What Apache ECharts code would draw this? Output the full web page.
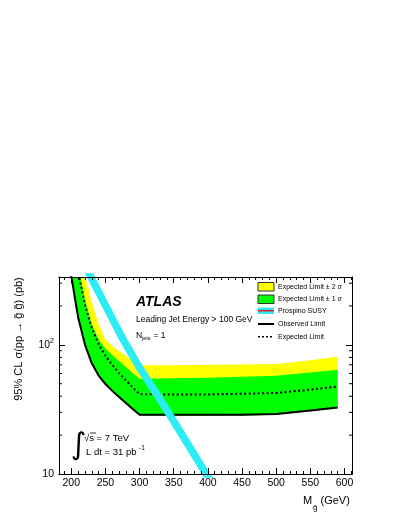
<!DOCTYPE html>
<html>
<head>
<meta charset="utf-8">
<script src="https://cdn.jsdelivr.net/npm/echarts@6/dist/echarts.min.js"></script>
<style>
  html, body { margin: 0; padding: 0; background: #fff; }
  #chart { width: 399px; height: 516px; }
</style>
</head>
<body>
<div id="chart"></div>
<script>
// gluino mass points (GeV) for the limit curves
const mass = [200, 210, 220, 230, 240, 250, 260, 270, 280, 290, 300, 350, 400, 450, 500, 550, 590];
// 95% CL limits on cross-section (pb)
const observed = [340, 163, 100.5, 71.9, 57.8, 49.7, 44.0, 39.4, 35.4, 31.9, 28.8, 28.7, 28.7, 28.8, 29.2, 31, 32.7];
const expected = [851, 372, 204, 135, 101, 82.2, 69.7, 60.4, 53, 46.8, 41.5, 41.2, 41.3, 41.8, 42.4, 45, 47.5];
const band1Up = [914, 408, 224.4, 144.9, 109.9, 93.5, 83.4, 74.8, 67.3, 60.5, 54.5, 55, 55.5, 56.5, 57.5, 61, 64];
const band2Up = [1205, 604, 339.6, 214.3, 144.9, 109.9, 97.9, 89.7, 82.4, 75.7, 69.5, 69.5, 70, 70.5, 71.2, 76, 81];
const bandLow = [335, 160.5, 99, 70.8, 56.9, 49, 43.3, 38.8, 34.9, 31.4, 28.4, 28.3, 28.3, 28.4, 28.8, 30.6, 32.3];

// Prospino SUSY cross-section
const prospinoMass = [200, 225, 250, 275, 300, 325, 350, 375, 400, 410];
const prospino = [684, 366, 202, 112, 66.4, 41.6, 25.6, 15.6, 9.5, 7.8];

// ticks
const xMajorTicks = [200, 250, 300, 350, 400, 450, 500, 550, 600];
const xMinorTicks = [190, 200, 210, 220, 230, 240, 250, 260, 270, 280, 290, 300, 310, 320, 330, 340, 350,
  360, 370, 380, 390, 400, 410, 420, 430, 440, 450, 460, 470, 480, 490, 500, 510, 520, 530, 540, 550,
  560, 570, 580, 590, 600, 610];
const yMinorTicks = [20, 30, 40, 50, 60, 70, 80, 90, 200, 300];

const FONT = '"Liberation Sans", Arial, Helvetica, sans-serif';
const xMin = 182, xMax = 611, yMin = 10, yMax = 335;

const chart = echarts.init(document.getElementById('chart'));

function xAxisOf(position, ticks, len, withLabels) {
  return {
    type: 'value',
    min: xMin,
    max: xMax,
    position: position,
    z: 10,
    axisLine: { show: true, onZero: false, lineStyle: { color: '#000', width: 1 } },
    axisTick: { show: true, inside: true, length: len, customValues: ticks, lineStyle: { color: '#000' } },
    axisLabel: withLabels
      ? { show: true, customValues: xMajorTicks, fontSize: 10.5, fontFamily: FONT, color: '#000', margin: 4 }
      : { show: false },
    splitLine: { show: false },
  };
}

function yAxisOf(position, withLabels) {
  return {
    type: 'log',
    logBase: 10,
    min: yMin,
    max: yMax,
    position: position,
    z: 10,
    axisLine: { show: true, onZero: false, lineStyle: { color: '#000', width: 1 } },
    axisTick: { show: true, inside: true, length: 6, lineStyle: { color: '#000' } },
    axisLabel: withLabels
      ? {
          show: true,
          margin: 5,
          fontFamily: FONT,
          color: '#000',
          formatter: function (value) {
            if (Math.abs(value - 10) < 0.01) return '{n|10}';
            if (Math.abs(value - 100) < 0.01) return '{n|10}{s|2}';
            return '';
          },
          rich: {
            n: { fontSize: 10.5, fontFamily: FONT, color: '#000' },
            s: { fontSize: 7, fontFamily: FONT, color: '#000', padding: [0, 0, 7, 0] },
          },
        }
      : { show: false },
    splitLine: { show: false },
  };
}

function bandSeries(upper, lower, color, z) {
  return {
    type: 'custom',
    clip: true,
    silent: true,
    z: z,
    data: [[mass[0], lower[0]]],
    renderItem: function (params, api) {
      const pts = [];
      for (let i = 0; i < mass.length; i++) pts.push(api.coord([mass[i], upper[i]]));
      for (let i = mass.length - 1; i >= 0; i--) pts.push(api.coord([mass[i], lower[i]]));
      return { type: 'polygon', shape: { points: pts }, style: { fill: color } };
    },
  };
}

function pairs(xs, ys) {
  return xs.map((x, i) => [x, ys[i]]);
}

const txt = (x, y, text, size, extra) => ({
  type: 'text',
  x: x,
  y: y,
  z: 100,
  style: Object.assign(
    { text: text, fontSize: size, fontFamily: FONT, fill: '#000', textVerticalAlign: 'middle' },
    extra || {}
  ),
});

const legendX = 258;
const graphics = [
  // legend
  { type: 'rect', z: 100, shape: { x: legendX, y: 282.5, width: 16, height: 8.5 }, style: { fill: '#ffff00', stroke: '#333', lineWidth: 1 } },
  txt(278, 286.7, 'Expected Limit \u00b1 2 \u03c3', 7),
  { type: 'rect', z: 100, shape: { x: legendX, y: 295, width: 16, height: 8.5 }, style: { fill: '#00ff00', stroke: '#333', lineWidth: 1 } },
  txt(278, 299.2, 'Expected Limit \u00b1 1 \u03c3', 7),
  { type: 'rect', z: 100, shape: { x: legendX, y: 307.5, width: 16, height: 6.5 }, style: { fill: '#2cecf5' } },
  { type: 'line', z: 101, shape: { x1: legendX, y1: 310.7, x2: legendX + 16, y2: 310.7 }, style: { stroke: '#e0202a', lineWidth: 1.5 } },
  txt(278, 311, 'Prospino SUSY', 7),
  { type: 'line', z: 100, shape: { x1: legendX, y1: 324, x2: legendX + 16, y2: 324 }, style: { stroke: '#000', lineWidth: 2 } },
  txt(278, 324, 'Observed Limit', 7),
  { type: 'line', z: 100, shape: { x1: legendX, y1: 336.7, x2: legendX + 16, y2: 336.7 }, style: { stroke: '#000', lineWidth: 1.6, lineDash: [2, 2] } },
  txt(278, 336.7, 'Expected Limit', 7),

  // labels in the plot
  txt(136, 301.7, 'ATLAS', 14, { fontWeight: 'bold', fontStyle: 'italic' }),
  txt(136, 320, 'Leading Jet Energy > 100 GeV', 8.5),
  txt(136, 335.5, 'N', 8.5),
  txt(142, 338.5, 'jets', 5.5),
  txt(153.5, 335.5, '= 1', 8.5),

  txt(78.5, 446, '\u222b', 30, { fontFamily: '"DejaVu Sans", sans-serif', textAlign: 'center' }),
  txt(84, 438.5, '\u221as = 7 TeV', 9.5),
  { type: 'line', z: 100, shape: { x1: 90, y1: 433, x2: 96, y2: 433 }, style: { stroke: '#000', lineWidth: 0.8 } },
  txt(86, 452.5, 'L dt = 31 pb', 9.5),
  txt(139, 448.5, '-1', 6.5),

  // axis titles
  {
    type: 'text', z: 100, x: 19, y: 339, rotation: Math.PI / 2,
    style: { text: '95% CL \u03c3(pp \u2192 g\u0303 g\u0303) (pb)', fontSize: 11, fontFamily: FONT, fill: '#000', textAlign: 'center', textVerticalAlign: 'middle' },
  },
  txt(303, 501, 'M', 11),
  txt(313, 507.5, 'g\u0303', 8),
  txt(320.5, 501, '(GeV)', 11),
];

chart.setOption({
  animation: false,
  backgroundColor: '#fff',
  grid: { left: 59, top: 277, width: 293, height: 197, containLabel: false },
  xAxis: [
    xAxisOf('bottom', xMajorTicks, 6, true),
    xAxisOf('bottom', xMinorTicks, 3, false),
    xAxisOf('top', xMajorTicks, 6, false),
    xAxisOf('top', xMinorTicks, 3, false),
  ],
  yAxis: [yAxisOf('left', true), yAxisOf('right', false)],
  series: [
    bandSeries(band2Up, bandLow, '#ffff00', 2),
    bandSeries(band1Up, bandLow, '#00ff00', 3),
    {
      name: 'Expected Limit',
      type: 'line',
      data: pairs(mass, expected),
      symbol: 'none',
      clip: true,
      z: 5,
      lineStyle: { color: '#000', width: 2, type: [2, 2.5] },
    },
    {
      name: 'Observed Limit',
      type: 'line',
      data: pairs(mass, observed),
      symbol: 'none',
      clip: true,
      z: 5,
      lineStyle: { color: '#000', width: 2 },
    },
    {
      name: 'Prospino SUSY',
      type: 'line',
      data: pairs(prospinoMass, prospino),
      symbol: 'none',
      clip: true,
      z: 6,
      lineStyle: { color: '#2cecf5', width: 7.5, cap: 'butt' },
    },
    {
      // minor ticks of the log axes, left and right
      type: 'custom',
      silent: true,
      z: 11,
      data: pairs(yMinorTicks.map(() => xMin), yMinorTicks),
      renderItem: function (params, api) {
        const v = api.value(1);
        const l = api.coord([xMin, v]);
        const r = api.coord([xMax, v]);
        return {
          type: 'group',
          children: [
            { type: 'line', shape: { x1: l[0], y1: l[1], x2: l[0] + 3, y2: l[1] }, style: { stroke: '#000', lineWidth: 1 } },
            { type: 'line', shape: { x1: r[0] - 3, y1: r[1], x2: r[0], y2: r[1] }, style: { stroke: '#000', lineWidth: 1 } },
          ],
        };
      },
    },
  ],
  graphic: graphics,
});
</script>
</body>
</html>
